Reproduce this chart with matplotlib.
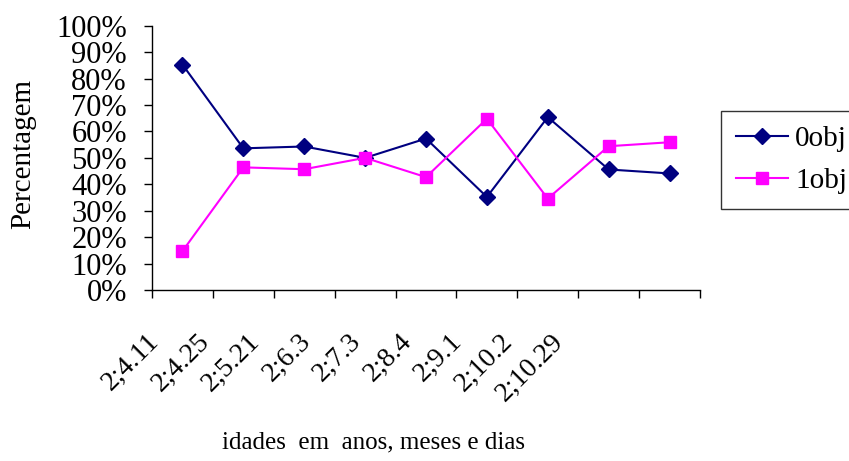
import matplotlib
matplotlib.use('Agg')
import matplotlib.pyplot as plt
import numpy as np

# dados
idades = ["2;4.11", "2;4.25", "2;5.21", "2;6.3", "2;7.3", "2;8.4", "2;9.1", "2;10.2", "2;10.29"]
obj0 = [85.3, 53.6, 54.3, 50.0, 57.3, 35.2, 65.4, 45.6, 44.1]
obj1 = [14.7, 46.4, 45.7, 50.0, 42.7, 64.8, 34.6, 54.4, 55.9]

plt.rcParams['font.family'] = ['Liberation Serif', 'DejaVu Serif']

fig = plt.figure(figsize=(8.49, 4.61), dpi=100)
ax = fig.add_axes([152 / 849, 1 - 290 / 461, 548 / 849, 264.3 / 461])

x = np.arange(len(idades))
ax.plot(x, obj0, color='#000080', marker='D', markersize=8, linewidth=1.5, label='0obj')
ax.plot(x, obj1, color='#FF00FF', marker='s', markersize=8, linewidth=1.5, label='1obj')

ax.set_xlim(-0.5, len(idades) - 0.5)
ax.set_ylim(0, 100)
ax.set_yticks(np.arange(0, 101, 10))
ax.set_yticklabels([f"{v}%" for v in range(0, 101, 10)], fontsize=22)
ax.tick_params(axis='y', direction='out', length=6, width=1, pad=12)

# marcas nas fronteiras das categorias, rótulos um pouco comprimidos como no original
ax.set_xticks(np.arange(-0.5, len(idades)), minor=True)
ax.set_xticks(-0.3 + 0.83 * x)
ax.set_xticklabels(idades, rotation=45, ha='right', va='top', fontsize=20)
ax.tick_params(axis='x', which='major', length=0, pad=28)
ax.tick_params(axis='x', which='minor', direction='out', length=6, width=1)

for s in ['top', 'right']:
    ax.spines[s].set_visible(False)
ax.spines['left'].set_linewidth(1)
ax.spines['bottom'].set_linewidth(1)

fig.text(23 / 849, 1 - 154 / 461, 'Percentagem', rotation=90, ha='center', va='center', fontsize=21)
fig.text(374 / 849, 1 - 442 / 461, 'idades  em  anos, meses e dias', ha='center', va='center', fontsize=18)

leg = ax.legend(loc='upper left', bbox_to_anchor=(721 / 849, 1 - 111 / 461),
                bbox_transform=fig.transFigure, fontsize=21, frameon=True, fancybox=False,
                edgecolor='black', handlelength=1.8, borderpad=0.5, labelspacing=0.55,
                handletextpad=0.25, borderaxespad=0)
leg.get_frame().set_linewidth(1)

fig.savefig('out.png', dpi=100)
